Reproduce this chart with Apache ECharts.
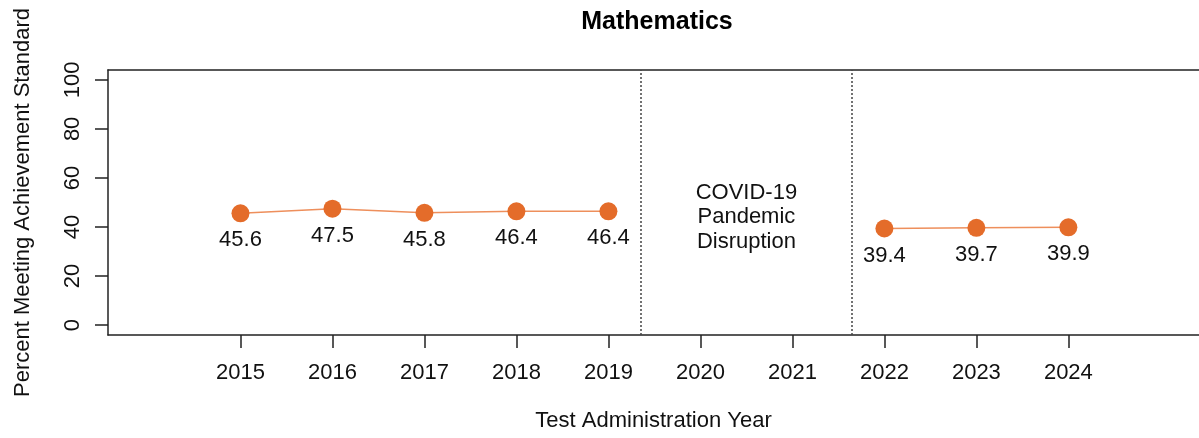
<!DOCTYPE html>
<html>
<head>
<meta charset="utf-8">
<script src="https://cdn.jsdelivr.net/npm/echarts@6/dist/echarts.min.js"></script>
<style>html,body{margin:0;padding:0;background:#fff;overflow:hidden;}#c{width:1199px;height:438px;}</style>
</head>
<body>
<div id="c"></div>
<script>
const years = [2015, 2016, 2017, 2018, 2019, 2022, 2023, 2024];
const values = [45.6, 47.5, 45.8, 46.4, 46.4, 39.4, 39.7, 39.9];
const tickYears = [2015, 2016, 2017, 2018, 2019, 2020, 2021, 2022, 2023, 2024];
const yTicks = [0, 20, 40, 60, 80, 100];
const disruptionBounds = [2019.35, 2021.65];
const disruptionText = 'COVID-19\nPandemic\nDisruption';
const disruptionPos = [2020.5, 44];

const FONT = '"Liberation Sans", Arial, sans-serif';
const FS = 22;
const DOT = '#E46C2A';
const LINE = '#EE8F5C';
const AXC = '#222';

const pre = [], post = [];
years.forEach((y, i) => { (y < 2020 ? pre : post).push([y, values[i]]); });

function seg(data, withMarks) {
  const s = {
    type: 'line',
    data: data,
    symbol: 'circle',
    symbolSize: 18,
    itemStyle: { color: DOT },
    lineStyle: { color: LINE, width: 1.5 },
    label: {
      show: true, position: 'bottom', distance: 7,
      fontFamily: FONT, fontSize: FS, color: '#111',
      formatter: p => p.value[1].toFixed(1)
    },
    z: 3
  };
  if (withMarks) {
    s.markLine = {
      silent: true, symbol: 'none', label: { show: false },
      lineStyle: { color: '#444', type: [2, 2], width: 1.5 },
      data: disruptionBounds.map(v => ({ xAxis: v }))
    };
    s.markPoint = {
      silent: true, symbol: 'circle', symbolSize: 0,
      label: {
        show: true, position: 'inside', formatter: disruptionText,
        fontFamily: FONT, fontSize: FS, lineHeight: 24.5, color: '#111', align: 'center'
      },
      data: [{ coord: disruptionPos }]
    };
  }
  return s;
}

const XMIN = 2013.56, XMAX = 2025.42;

const chart = echarts.init(document.getElementById('c'), null, { renderer: 'canvas' });
chart.setOption({
  animation: false,
  backgroundColor: '#fff',
  title: {
    text: 'Mathematics', left: 652, top: 5, textAlign: 'center',
    textStyle: { fontFamily: FONT, fontSize: 25, fontWeight: 'bold', color: '#000' }
  },
  grid: { left: 108, right: 0, top: 70, bottom: 103, show: false },
  xAxis: [{
    type: 'value', min: XMIN, max: XMAX, position: 'bottom',
    name: 'Test Administration Year', nameLocation: 'middle', nameGap: 75,
    nameTextStyle: { fontFamily: FONT, fontSize: FS, color: '#111' },
    axisLine: { show: true, onZero: false, lineStyle: { color: AXC, width: 1.5 } },
    axisTick: { show: true, length: 13, inside: false, customValues: tickYears, lineStyle: { color: AXC, width: 1.5 } },
    axisLabel: { customValues: tickYears, margin: 27, fontFamily: FONT, fontSize: FS, color: '#111', formatter: v => String(v) },
    splitLine: { show: false }
  }, {
    type: 'value', min: XMIN, max: XMAX, position: 'top',
    axisLine: { show: true, onZero: false, lineStyle: { color: AXC, width: 1.5 } },
    axisTick: { show: false }, axisLabel: { show: false }, splitLine: { show: false }
  }],
  yAxis: {
    type: 'value', min: -4, max: 104,
    name: 'Percent Meeting Achievement Standard', nameLocation: 'middle', nameGap: 74, nameRotate: 90,
    nameTextStyle: { fontFamily: FONT, fontSize: FS, color: '#111' },
    axisLine: { show: true, onZero: false, lineStyle: { color: AXC, width: 1.5 } },
    axisTick: { show: true, length: 13, inside: false, customValues: yTicks, lineStyle: { color: AXC, width: 1.5 } },
    axisLabel: { customValues: yTicks, rotate: 90, margin: 24, fontFamily: FONT, fontSize: FS, color: '#111' },
    splitLine: { show: false }
  },
  series: [seg(pre, true), seg(post, false)]
});
</script>
</body>
</html>
